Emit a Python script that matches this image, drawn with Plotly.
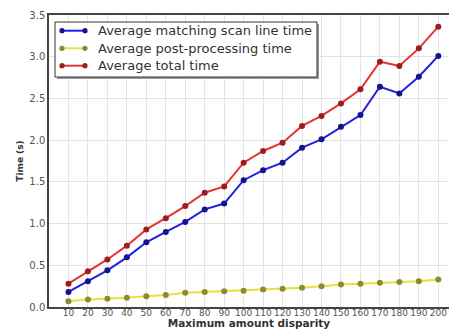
import plotly.graph_objects as go

disparity = [10, 20, 30, 40, 50, 60, 70, 80, 90, 100,
             110, 120, 130, 140, 150, 160, 170, 180, 190, 200]
matching_time = [0.18, 0.31, 0.44, 0.595, 0.776, 0.90, 1.02, 1.17, 1.24, 1.52,
                 1.64, 1.73, 1.91, 2.01, 2.16, 2.30, 2.64, 2.56, 2.76, 3.01]
post_time = [0.07, 0.09, 0.10, 0.11, 0.13, 0.145, 0.17, 0.18, 0.19, 0.195,
             0.21, 0.22, 0.23, 0.25, 0.27, 0.28, 0.29, 0.30, 0.31, 0.33]
total_time = [0.28, 0.43, 0.57, 0.735, 0.93, 1.065, 1.21, 1.37, 1.445, 1.73,
              1.87, 1.97, 2.17, 2.29, 2.44, 2.61, 2.94, 2.89, 3.10, 3.36]

series_names = ["Average matching scan line time",
                "Average post-processing time",
                "Average total time"]
series_values = [matching_time, post_time, total_time]
line_colors = ["#2020dd", "#e2e240", "#e33535"]
marker_colors = ["#14148c", "#8c8c2c", "#a01c1c"]

W, H = 449, 329
ML, MR, MT, MB = 49, 0, 15, 22
PW, PH = W - ML - MR, H - MT - MB


def px(x):
    """Pixel column -> paper x fraction."""
    return (x - ML) / PW


def py(y):
    """Pixel row -> paper y fraction."""
    return (H - MB - y) / PH


fig = go.Figure()
for name, vals, lc, mc in zip(series_names, series_values, line_colors, marker_colors):
    fig.add_trace(go.Scatter(
        x=disparity, y=vals, name=name, mode="lines+markers",
        line=dict(color=lc, width=2),
        marker=dict(color=mc, size=6, line=dict(width=0)),
        showlegend=False,
    ))

font = "DejaVu Sans"

# Boxed legend with a drop shadow and two-marker line samples
shapes = []
annotations = []
box_l, box_r, box_t, box_b = 55, 317, 22, 77
shapes.append(dict(type="rect", xref="paper", yref="paper",
                   x0=px(box_l + 2), x1=px(box_r + 2),
                   y0=py(box_b + 2), y1=py(box_t + 2),
                   fillcolor="#9a9a9a", line=dict(width=0), layer="above"))
shapes.append(dict(type="rect", xref="paper", yref="paper",
                   x0=px(box_l), x1=px(box_r), y0=py(box_b), y1=py(box_t),
                   fillcolor="white", line=dict(color="#333333", width=1),
                   layer="above"))
row_y = [30.7, 48.3, 65.7]
for name, ry, lc, mc in zip(series_names, row_y, line_colors, marker_colors):
    shapes.append(dict(type="line", xref="paper", yref="paper",
                       x0=px(62), x1=px(85), y0=py(ry), y1=py(ry),
                       line=dict(color=lc, width=2), layer="above"))
    for cx in (62, 85):
        shapes.append(dict(type="circle", xref="paper", yref="paper",
                           x0=px(cx - 2.6), x1=px(cx + 2.6),
                           y0=py(ry + 2.6), y1=py(ry - 2.6),
                           fillcolor=mc, line=dict(width=0), layer="above"))
    annotations.append(dict(xref="paper", yref="paper", x=px(96), y=py(ry),
                            xanchor="left", yanchor="middle", showarrow=False,
                            text=name,
                            font=dict(family=font, size=13, color="#333333")))

fig.update_layout(
    width=W, height=H,
    margin=dict(l=ML, r=MR, t=MT, b=MB),
    paper_bgcolor="white", plot_bgcolor="white",
    font=dict(family=font, size=10, color="#555555"),
    showlegend=False,
    shapes=shapes,
    annotations=annotations,
    xaxis=dict(
        range=[0, 205.5], tickmode="array", tickvals=disparity,
        ticktext=[str(d) for d in disparity], tickangle=0,
        showgrid=True, gridcolor="#e4e4e4", gridwidth=1,
        showline=True, linecolor="#444444", linewidth=1.5, mirror=True,
        ticks="", zeroline=False, automargin=False,
        ticklabelstandoff=-4,
        tickfont=dict(family=font, size=9, color="#555555"),
        title=dict(text="<b>Maximum amount disparity</b>", standoff=0,
                   font=dict(family=font, size=10.5, color="#333333")),
    ),
    yaxis=dict(
        range=[0, 3.5], tickmode="array",
        tickvals=[0, 0.5, 1.0, 1.5, 2.0, 2.5, 3.0, 3.5],
        ticktext=["0.0", "0.5", "1.0", "1.5", "2.0", "2.5", "3.0", "3.5"],
        showgrid=True, gridcolor="#e4e4e4", gridwidth=1,
        showline=True, linecolor="#444444", linewidth=1.5,
        ticks="", zeroline=False, automargin=False,
        tickfont=dict(family=font, size=10, color="#555555"),
        title=dict(text="<b>Time (s)</b>", standoff=4,
                   font=dict(family=font, size=9, color="#333333")),
    ),
)

fig.write_html("out.html")
